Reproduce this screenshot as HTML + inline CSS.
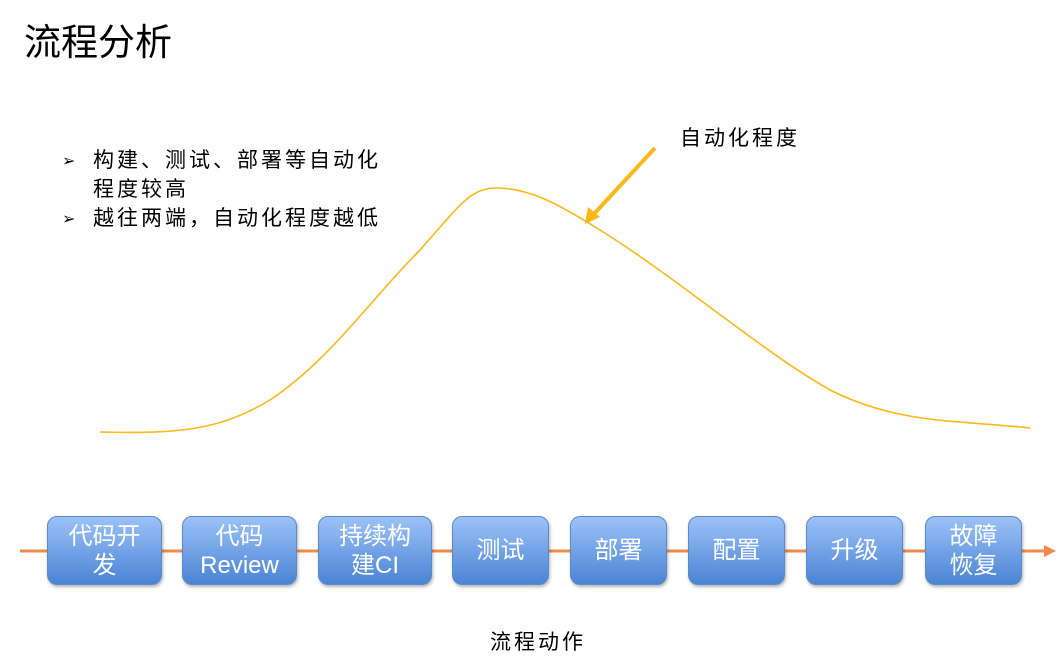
<!DOCTYPE html>
<html><head><meta charset="utf-8"><style>
body{margin:0;width:1064px;height:657px;background:#fff;position:relative;overflow:hidden;font-family:"Liberation Sans","Noto Sans CJK SC",sans-serif;}
.t{position:absolute;color:#000;white-space:nowrap}
.s{font-size:21px;letter-spacing:3px}
.b{position:absolute;top:516px;height:69px;border-radius:10px;background:linear-gradient(#9cc2f7,#4a84d4);border:1px solid #5a8ac8;box-shadow:1px 2px 3px rgba(0,0,0,.3);color:#fff;font-size:24px;line-height:29px;display:flex;align-items:center;justify-content:center;text-align:center;box-sizing:border-box}
</style></head><body>
<div class="t" style="left:24px;top:12px;font-size:37px">流程分析</div>
<div class="t" style="left:62px;top:147px;font-size:16px;line-height:29px">➢<br><br>➢</div>
<div class="t s" style="left:93px;top:146px;line-height:29px">构建、测试、部署等自动化<br>程度较高<br>越往两端，自动化程度越低</div>
<div class="t s" style="left:680px;top:122px">自动化程度</div>
<div class="t s" style="left:490px;top:626px">流程动作</div>
<svg style="position:absolute;left:0;top:0" width="1064" height="657">
<path d="M100,432 C180,434 220,430 270,400 C330,360 370,300 420,250 C460,205 470,188 497,188 C530,188 560,205 600,230 C680,280 760,350 830,390 C900,425 960,420 1030,428" fill="none" stroke="#fbb817" stroke-width="1.6"/>
<line x1="655" y1="148" x2="592" y2="216" stroke="#fbb817" stroke-width="4"/>
<polygon points="585,224 588,207 600,217" fill="#fbb817"/>
<line x1="20" y1="551" x2="1045" y2="551" stroke="#f08a4b" stroke-width="3"/>
<polygon points="1056,551 1044,545 1044,557" fill="#f08a4b"/>
</svg>
<div class="b" style="left:47px;width:115px">代码开<br>发</div>
<div class="b" style="left:182px;width:115px">代码<br>Review</div>
<div class="b" style="left:318px;width:114px">持续构<br>建CI</div>
<div class="b" style="left:452px;width:97px">测试</div>
<div class="b" style="left:570px;width:97px">部署</div>
<div class="b" style="left:688px;width:97px">配置</div>
<div class="b" style="left:806px;width:97px">升级</div>
<div class="b" style="left:925px;width:97px">故障<br>恢复</div>
</body></html>
